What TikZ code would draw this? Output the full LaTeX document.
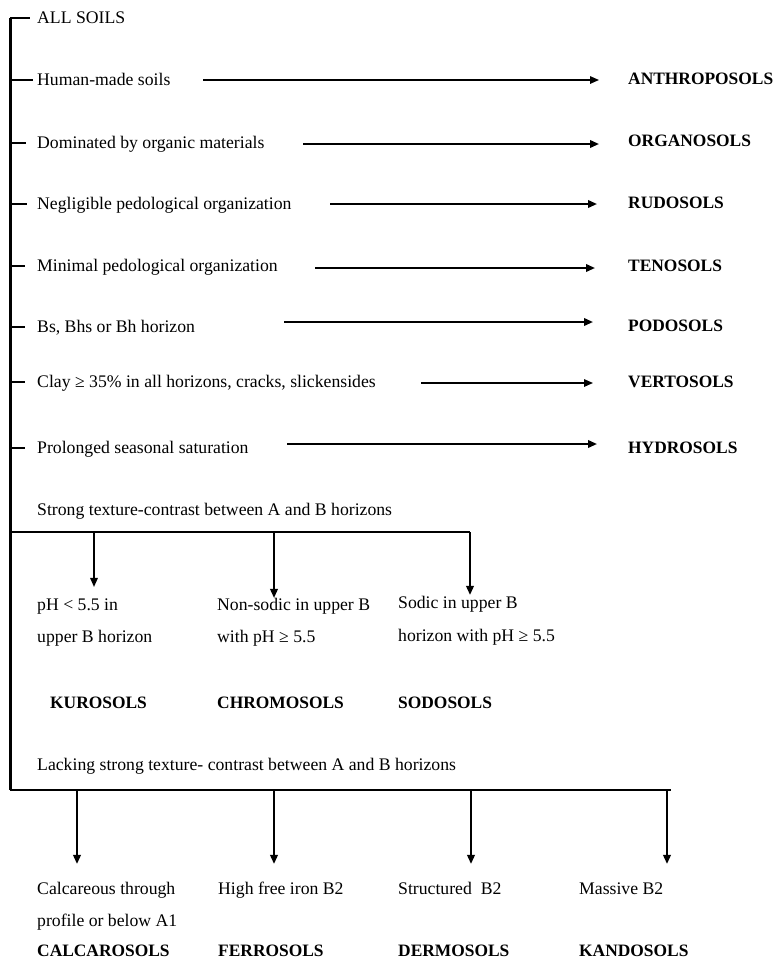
\documentclass[tikz,border=0pt]{standalone}
\usepackage{fontspec}
\setmainfont{Liberation Serif}
\usetikzlibrary{arrows.meta}
\begin{document}
\begin{tikzpicture}[x=1pt,y=-1pt,
  txt/.style={anchor=west,inner sep=0pt,text height=11.7pt,text depth=0pt,font=\fontsize{17.7}{20}\selectfont},
  lbl/.style={txt,font=\fontsize{17.4}{20}\selectfont\bfseries},
  spine/.style={line width=3pt},
  tick/.style={line width=2.5pt},
  branch/.style={line width=2.6pt},
  arr/.style={line width=2pt,-{Triangle[length=9pt,width=7.5pt]}},
  tarr/.style={line width=1.5pt,-{Triangle[length=9pt,width=7.5pt]}}]
\useasboundingbox (0,0) rectangle (777,959);

% spine
\coordinate (sTop) at (10,18);
\coordinate (sBot) at (10,790);
\draw[spine] (sTop) -- (sBot);

% criteria
\node[txt] (t0) at (37,18) {ALL SOILS};
\node[txt] (t1) at (37,80) {Human-made soils};
\node[txt] (t2) at (37,143) {Dominated by organic materials};
\node[txt] (t3) at (37,204) {Negligible pedological organization};
\node[txt] (t4) at (37,266) {Minimal pedological organization};
\node[txt] (t5) at (37,327) {Bs, Bhs or Bh horizon};
\node[txt] (t6) at (37,382) {Clay ≥ 35\% in all horizons, cracks, slickensides};
\node[txt] (t7) at (37,448) {Prolonged seasonal saturation};

% orders
\node[lbl] (n1) at (628,79) {ANTHROPOSOLS};
\node[lbl] (n2) at (628,141) {ORGANOSOLS};
\node[lbl] (n3) at (628,203) {RUDOSOLS};
\node[lbl] (n4) at (628,266) {TENOSOLS};
\node[lbl] (n5) at (628,326) {PODOSOLS};
\node[lbl] (n6) at (628,382) {VERTOSOLS};
\node[lbl] (n7) at (628,448) {HYDROSOLS};

% ticks
\draw[tick,shorten >=7pt] (sTop |- t0.west) -- (t0.west);
\draw[tick,shorten >=4pt] (sTop |- t1.west) -- (t1.west);
\draw[tick,shorten >=11pt] (sTop |- t2.west) -- (t2.west);
\draw[tick,shorten >=10pt] (sTop |- t3.west) -- (t3.west);
\draw[tick,shorten >=12pt] (sTop |- t4.west) -- (t4.west);
\draw[tick,shorten >=12pt] (sTop |- t5.west) -- (t5.west);
\draw[tick,shorten >=12pt] (sTop |- t6.west) -- (t6.west);
\draw[tick,shorten >=12pt] (sTop |- t7.west) -- (t7.west);

% horizontal arrows
\coordinate (a1) at (203,80);
\coordinate (a2) at (303,144);
\coordinate (a3) at (330,204);
\coordinate (a4) at (315,268);
\coordinate (a5) at (284,322);
\coordinate (a6) at (421,383);
\coordinate (a7) at (287,444);
\draw[tarr,shorten >=29pt] (a1) -- (a1 -| n1.west);
\draw[arr,shorten >=29pt] (a2) -- (a2 -| n2.west);
\draw[arr,shorten >=31pt] (a3) -- (a3 -| n3.west);
\draw[arr,shorten >=33pt] (a4) -- (a4 -| n4.west);
\draw[arr,shorten >=35pt] (a5) -- (a5 -| n5.west);
\draw[tarr,shorten >=35pt] (a6) -- (a6 -| n6.west);
\draw[arr,shorten >=31pt] (a7) -- (a7 -| n7.west);

% strong texture contrast
\node[txt] (st) at (37,510) {Strong texture-contrast between A and B horizons};
\coordinate (b0) at (10,532);
\coordinate (b1) at (94,532);
\coordinate (b2) at (274,532);
\coordinate (b3) at (470,532);
\node[txt] (k1) at (37,605) {pH < 5.5 in};
\node[txt] (k2) at (37,637) {upper B horizon};
\node[lbl] (kn) at (50,703) {KUROSOLS};
\node[txt] (c1) at (217,605) {Non-sodic in upper B};
\node[txt] (c2) at (217,637) {with pH ≥ 5.5};
\node[lbl] (cn) at (217,703) {CHROMOSOLS};
\node[txt] (s1) at (398,603) {Sodic in upper B};
\node[txt] (s2) at (398,636) {horizon with pH ≥ 5.5};
\node[lbl] (sn) at (398,703) {SODOSOLS};
\draw[branch] (b0) -- (b3);
\draw[tarr,shorten >=12pt] (b1) -- (b1 |- k1.north);
\draw[arr,shorten >=1pt] (b2) -- (b2 |- c1.north);
\draw[arr,shorten >=2pt] (b3) -- (b3 |- s1.north);

% lacking strong texture contrast
\node[txt] (la) at (37,765) {Lacking strong texture- contrast between A and B horizons};
\coordinate (d1) at (77,790);
\coordinate (d2) at (274,790);
\coordinate (d3) at (471,790);
\coordinate (d4) at (667,790);
\coordinate (dEnd) at (671,790);
\draw[branch] (sBot) -- (dEnd);
\node[txt] (x1) at (37,889) {Calcareous through};
\node[txt] (x2) at (37,921) {profile or below A1};
\node[lbl] (xn) at (37,951) {CALCAROSOLS};
\node[txt] (f1) at (218,889) {High free iron B2};
\node[lbl] (fn) at (218,951) {FERROSOLS};
\node[txt] (m1) at (398,889) {Structured\ \ B2};
\node[lbl] (mn) at (398,951) {DERMOSOLS};
\node[txt] (q1) at (579,889) {Massive B2};
\node[lbl] (qn) at (579,951) {KANDOSOLS};
\draw[arr,shorten >=19pt] (d1) -- (d1 |- x1.north);
\draw[arr,shorten >=19pt] (d2) -- (d2 |- f1.north);
\draw[arr,shorten >=19pt] (d3) -- (d3 |- m1.north);
\draw[arr,shorten >=19pt] (d4) -- (d4 |- q1.north);
\end{tikzpicture}
\end{document}
